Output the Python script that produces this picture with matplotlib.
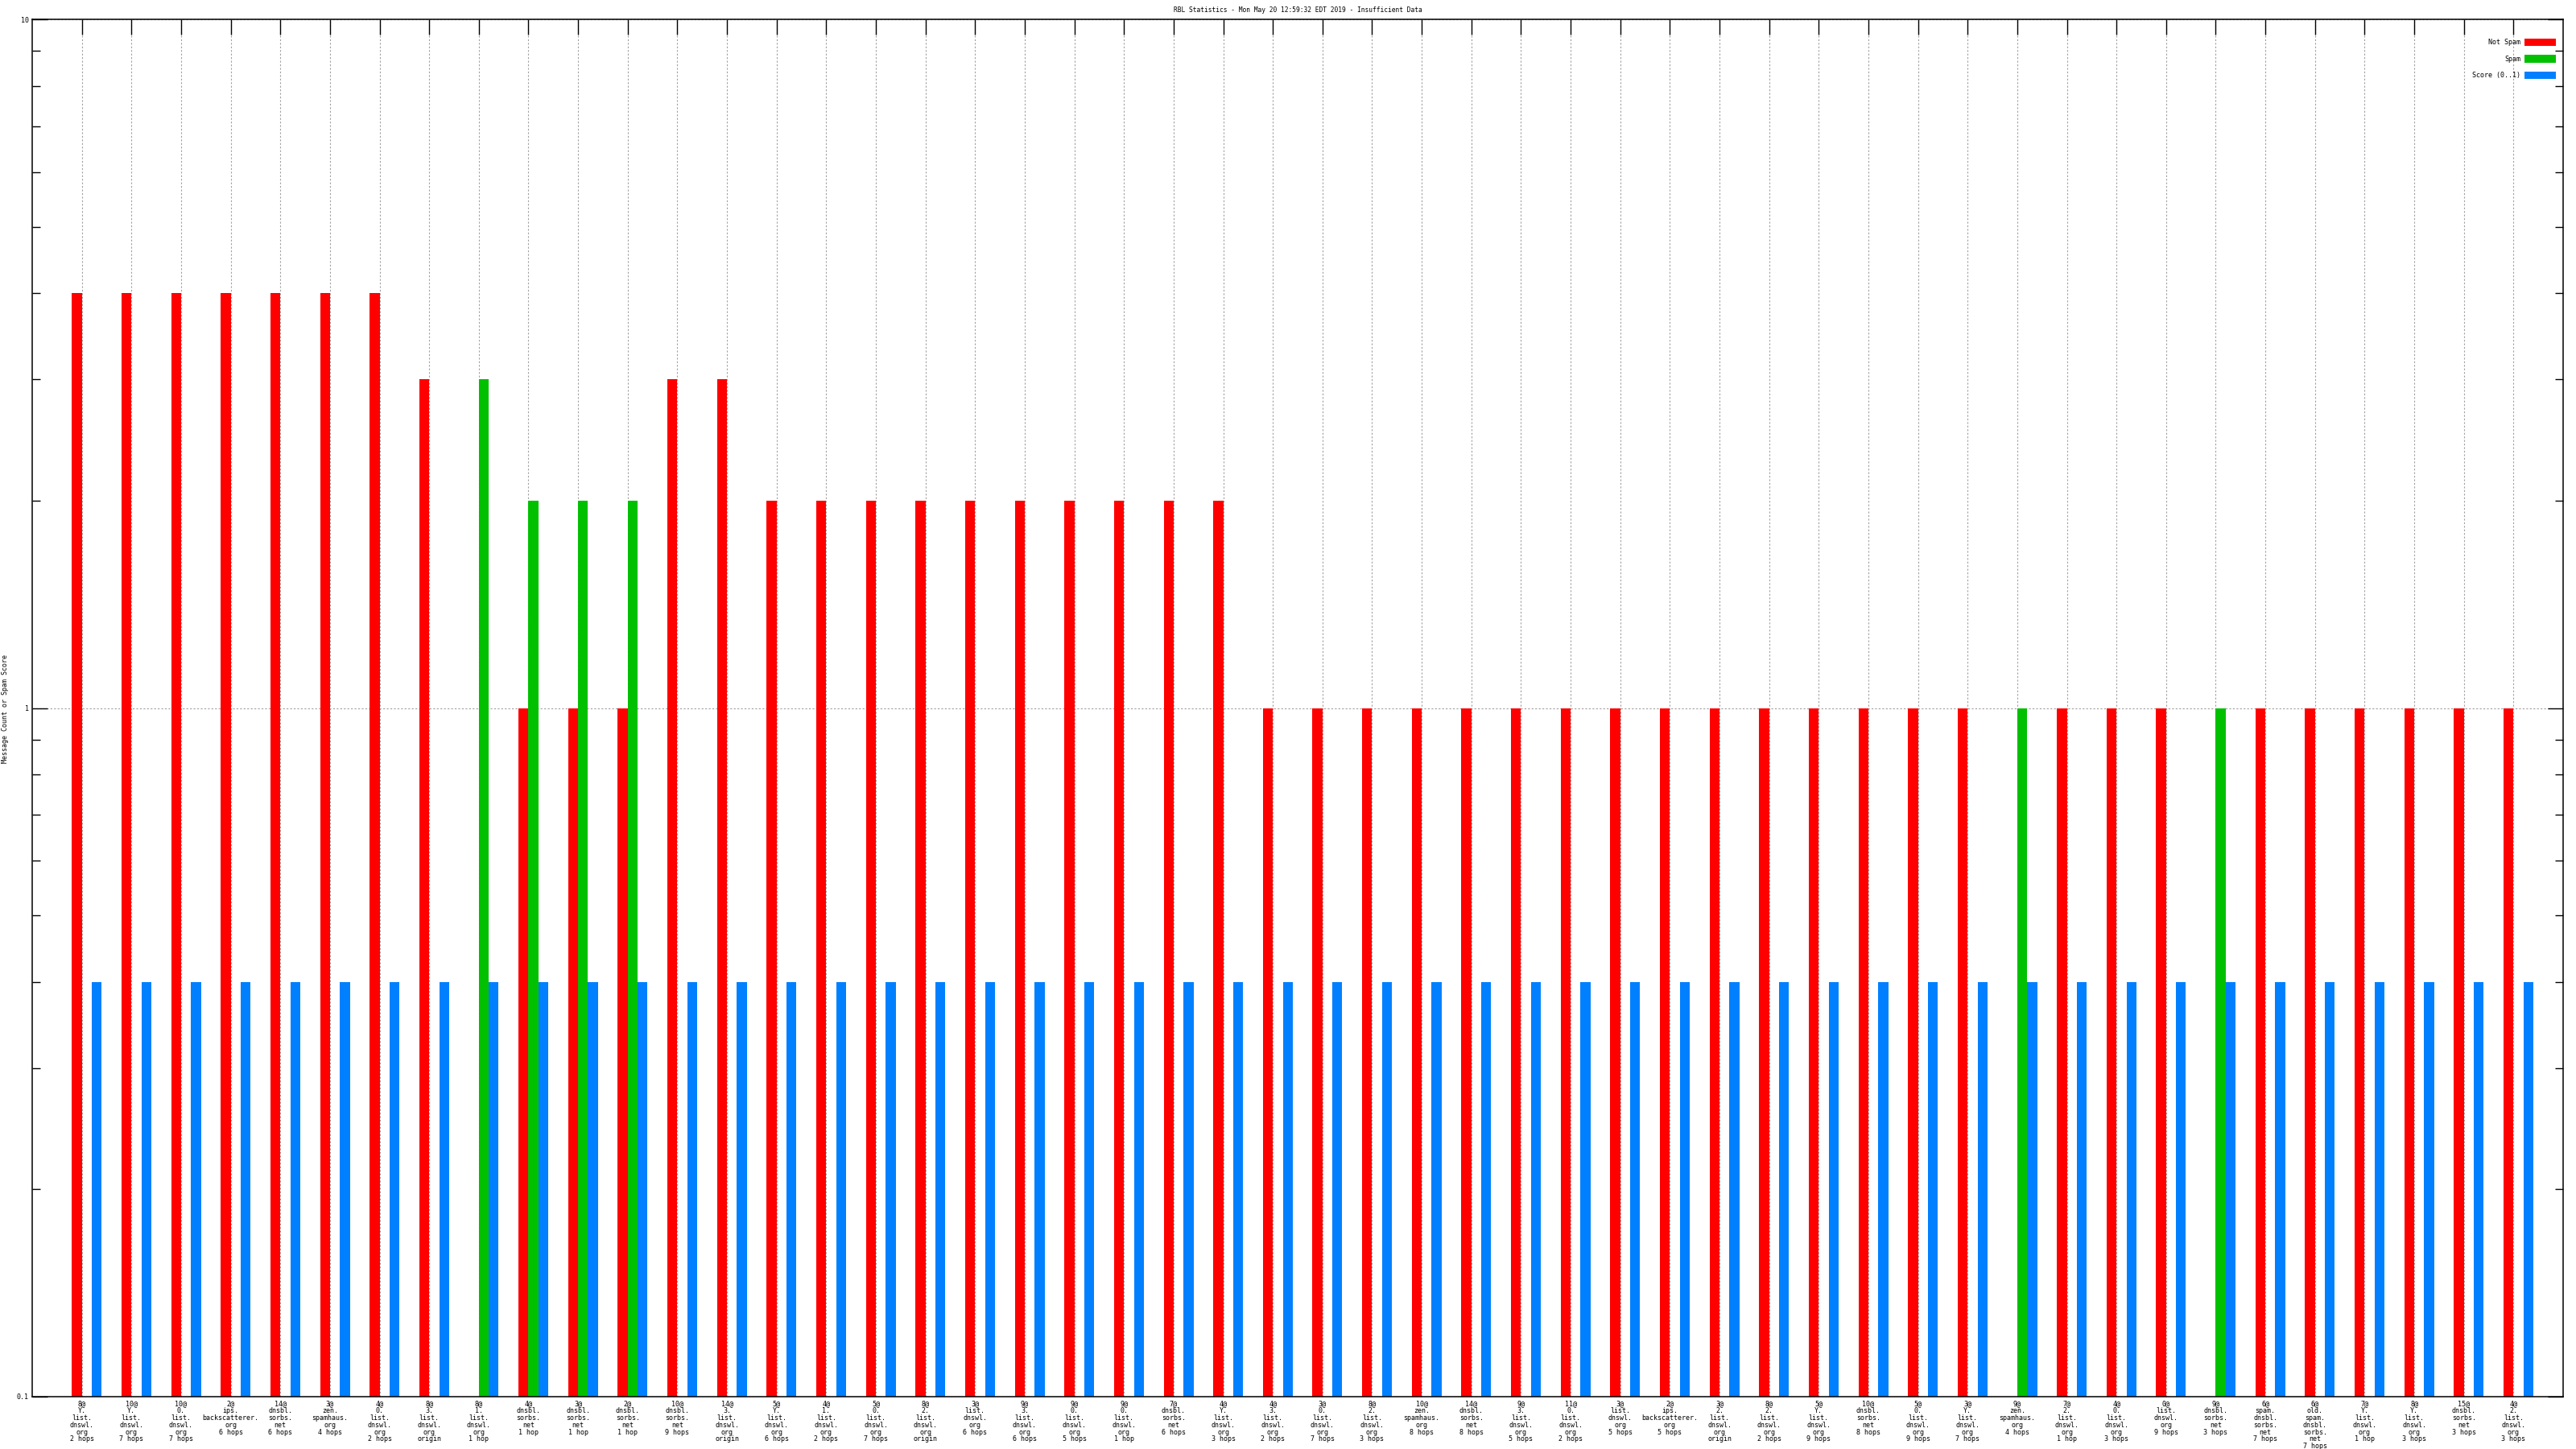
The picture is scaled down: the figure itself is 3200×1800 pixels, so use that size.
import numpy as np
import matplotlib
matplotlib.use("Agg")
import matplotlib.pyplot as plt
from matplotlib.ticker import LogLocator, NullFormatter, FixedLocator

plt.rcParams['font.family'] = ['DejaVu Sans Mono', 'DejaVu Sans']

title = "RBL Statistics - Mon May 20 12:59:32 EDT 2019 - Insufficient Data"
ylabel = "Message Count or Spam Score"

categories = [
    "8@\nY.\nlist.\ndnswl.\norg\n2 hops",
    "10@\nY.\nlist.\ndnswl.\norg\n7 hops",
    "10@\n0.\nlist.\ndnswl.\norg\n7 hops",
    "2@\nips.\nbackscatterer.\norg\n6 hops",
    "14@\ndnsbl.\nsorbs.\nnet\n6 hops",
    "3@\nzen.\nspamhaus.\norg\n4 hops",
    "4@\n0.\nlist.\ndnswl.\norg\n2 hops",
    "8@\n3.\nlist.\ndnswl.\norg\norigin",
    "8@\n1.\nlist.\ndnswl.\norg\n1 hop",
    "4@\ndnsbl.\nsorbs.\nnet\n1 hop",
    "3@\ndnsbl.\nsorbs.\nnet\n1 hop",
    "2@\ndnsbl.\nsorbs.\nnet\n1 hop",
    "10@\ndnsbl.\nsorbs.\nnet\n9 hops",
    "14@\n3.\nlist.\ndnswl.\norg\norigin",
    "5@\nY.\nlist.\ndnswl.\norg\n6 hops",
    "4@\n1.\nlist.\ndnswl.\norg\n2 hops",
    "5@\n0.\nlist.\ndnswl.\norg\n7 hops",
    "8@\n2.\nlist.\ndnswl.\norg\norigin",
    "3@\nlist.\ndnswl.\norg\n6 hops",
    "9@\n3.\nlist.\ndnswl.\norg\n6 hops",
    "9@\n0.\nlist.\ndnswl.\norg\n5 hops",
    "9@\n0.\nlist.\ndnswl.\norg\n1 hop",
    "7@\ndnsbl.\nsorbs.\nnet\n6 hops",
    "4@\nY.\nlist.\ndnswl.\norg\n3 hops",
    "4@\n3.\nlist.\ndnswl.\norg\n2 hops",
    "3@\n0.\nlist.\ndnswl.\norg\n7 hops",
    "8@\n2.\nlist.\ndnswl.\norg\n3 hops",
    "10@\nzen.\nspamhaus.\norg\n8 hops",
    "14@\ndnsbl.\nsorbs.\nnet\n8 hops",
    "9@\n3.\nlist.\ndnswl.\norg\n5 hops",
    "11@\n0.\nlist.\ndnswl.\norg\n2 hops",
    "3@\nlist.\ndnswl.\norg\n5 hops",
    "2@\nips.\nbackscatterer.\norg\n5 hops",
    "3@\n2.\nlist.\ndnswl.\norg\norigin",
    "8@\n2.\nlist.\ndnswl.\norg\n2 hops",
    "5@\nY.\nlist.\ndnswl.\norg\n9 hops",
    "10@\ndnsbl.\nsorbs.\nnet\n8 hops",
    "5@\n0.\nlist.\ndnswl.\norg\n9 hops",
    "3@\nY.\nlist.\ndnswl.\norg\n7 hops",
    "9@\nzen.\nspamhaus.\norg\n4 hops",
    "7@\n2.\nlist.\ndnswl.\norg\n1 hop",
    "4@\n0.\nlist.\ndnswl.\norg\n3 hops",
    "0@\nlist.\ndnswl.\norg\n9 hops",
    "9@\ndnsbl.\nsorbs.\nnet\n3 hops",
    "6@\nspam.\ndnsbl.\nsorbs.\nnet\n7 hops",
    "6@\nold.\nspam.\ndnsbl.\nsorbs.\nnet\n7 hops",
    "7@\nY.\nlist.\ndnswl.\norg\n1 hop",
    "8@\nY.\nlist.\ndnswl.\norg\n3 hops",
    "15@\ndnsbl.\nsorbs.\nnet\n3 hops",
    "4@\n2.\nlist.\ndnswl.\norg\n3 hops",
]

not_spam = [4, 4, 4, 4, 4, 4, 4, 3, 0, 1, 1, 1, 3, 3, 2, 2, 2, 2, 2, 2, 2, 2, 2, 2,
            1, 1, 1, 1, 1, 1, 1, 1, 1, 1, 1, 1, 1, 1, 1, 0, 1, 1, 1, 0, 1, 1, 1, 1, 1, 1]
spam = [0, 0, 0, 0, 0, 0, 0, 0, 3, 2, 2, 2, 0, 0, 0, 0, 0, 0, 0, 0, 0, 0, 0, 0,
        0, 0, 0, 0, 0, 0, 0, 0, 0, 0, 0, 0, 0, 0, 0, 1, 0, 0, 0, 1, 0, 0, 0, 0, 0, 0]
score = [0.4] * 50

series_names = ["Not Spam", "Spam", "Score (0..1)"]
series_colors = ["#ff0000", "#00c000", "#0080ff"]

fig = plt.figure(figsize=(32, 18), dpi=100)
W, H = 3200, 1800
L, R, T, B = 40, 3184, 24, 1735
ax = fig.add_axes([L / W, 1 - B / H, (R - L) / W, (B - T) / H])

x = np.arange(len(categories))
bw = 0.2
offsets = [-0.1, 0.1, 0.3]
for vals, name, col, off in zip([not_spam, spam, score], series_names, series_colors, offsets):
    v = np.array(vals, dtype=float)
    m = v > 0
    ax.bar(x[m] + off, v[m], width=bw, color=col, label=name,
           linewidth=0, zorder=2)

ax.set_yscale('log')
ax.set_ylim(0.1, 10)
ax.set_xlim(-1, len(categories))

FS = 6
ax.yaxis.set_major_locator(FixedLocator([0.1, 1, 10]))
ax.set_yticklabels(["0.1", "1", "10"])
ax.yaxis.set_minor_locator(LogLocator(base=10, subs=np.arange(2, 10)))
ax.yaxis.set_minor_formatter(NullFormatter())
ax.tick_params(axis='y', which='major', direction='in', length=14, width=1.0,
               left=True, right=True, labelsize=FS, pad=3)
ax.tick_params(axis='y', which='minor', direction='in', length=7, width=1.0,
               left=True, right=True)

ax.set_xticks(x)
ax.set_xticklabels(categories, fontsize=FS, linespacing=0.98)
ax.tick_params(axis='x', which='major', direction='in', length=14, width=1.0,
               top=True, bottom=False, pad=3)

ax.grid(axis='x', which='major', color='#a0a0a0', linestyle=(0, (2, 2)), linewidth=0.8, zorder=0)
ax.grid(axis='y', which='major', color='#a0a0a0', linestyle=(0, (2, 2)), linewidth=0.8, zorder=0)
ax.set_axisbelow(True)

for s in ax.spines.values():
    s.set_linewidth(1.1)
    s.set_zorder(3)

fig.text((L + R) / 2 / W, 1 - 12.5 / H, title, ha='center', va='center', fontsize=5.7)
fig.text(7 / W, 1 - 880 / H, ylabel, ha='center', va='center', rotation=90, fontsize=FS)

fs_px = FS * 100 / 72
leg = ax.legend(loc='upper right', frameon=False, markerfirst=False, fontsize=FS,
                handlelength=39 / fs_px, handleheight=11 / fs_px,
                labelspacing=(22 - 11) / fs_px, handletextpad=5 / fs_px,
                borderpad=0, borderaxespad=0,
                bbox_to_anchor=(1 - 9 / (R - L), 1 - 24 / (B - T)))

fig.savefig("out.png", dpi=100)
